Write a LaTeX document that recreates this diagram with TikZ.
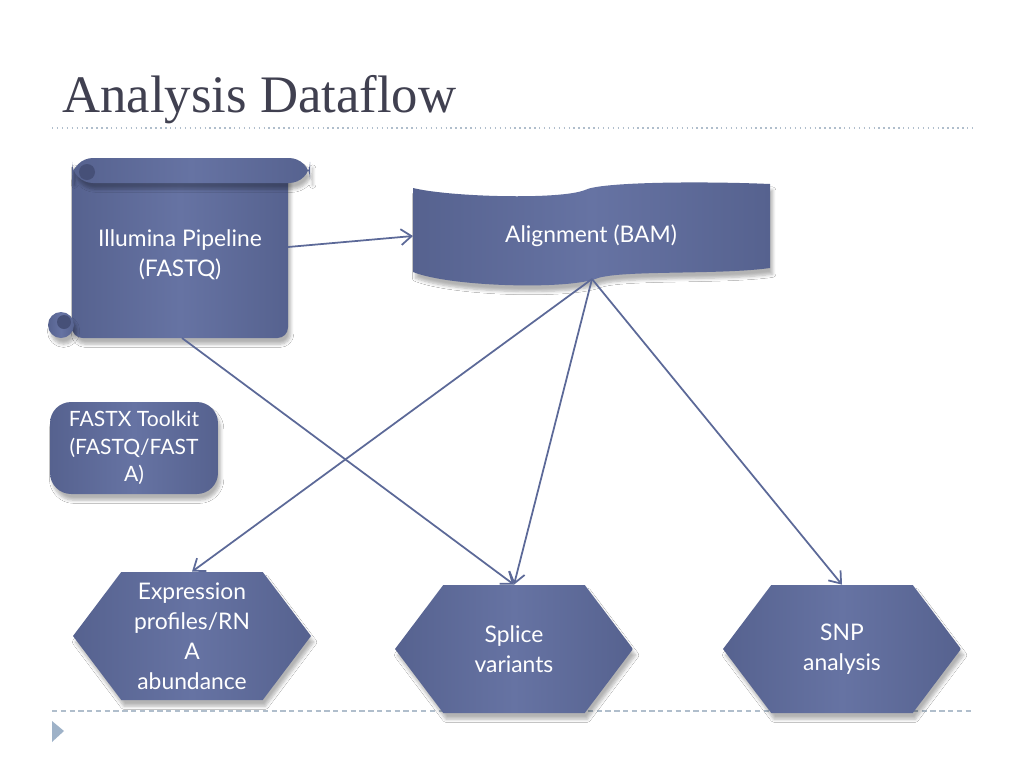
\documentclass[tikz,border=0pt]{standalone}
\usepackage{fontspec}
\setmainfont{Liberation Serif}
\newfontfamily\boxfont{Lato}
\usetikzlibrary{arrows.meta,shapes.symbols,shadows.blur}
\definecolor{slate}{RGB}{92,105,152}
\definecolor{slatelight}{RGB}{102,115,163}
\definecolor{slatedark}{RGB}{86,98,143}
\definecolor{curldark}{RGB}{70,80,120}
\definecolor{titlegray}{RGB}{64,64,80}
\definecolor{rulegray}{RGB}{176,190,204}
\definecolor{bulletblue}{RGB}{158,178,200}

\begin{document}
\begin{tikzpicture}[x=0.02cm,y=-0.02cm,>={Straight Barb[length=6pt,width=9pt]},
  boxfill/.style={left color=slatedark,right color=slatedark,middle color=slatelight,
    blur shadow={shadow xshift=1.5pt,shadow yshift=-3.5pt,shadow blur radius=1.8pt,shadow blur steps=6,shadow opacity=30}},
  boxtext/.style={text=white,font=\boxfont\fontsize{13}{17}\selectfont,align=center},
  hexbox/.style={boxfill,boxtext,shape=signal,signal to=west and east,signal pointer angle=106,
    minimum width=4.76cm,minimum height=2.56cm,inner sep=0pt},
  flow/.style={->,slate,line width=1pt}]
\fill[white] (0,0) rectangle (1024,768);
\useasboundingbox (0,0) rectangle (1024,768);
\node[anchor=base west,text=titlegray,font=\fontsize{30}{36}\selectfont,inner sep=0pt] (title) at (62,112) {Analysis Dataflow};
\draw[rulegray,dotted,line width=0.8pt] (52,128) -- (972,128);
\draw[rulegray,dash pattern=on 3pt off 2pt,line width=0.6pt] (52,711) -- (972,711);
\fill[bulletblue] (52,721) -- (64,731) -- (52,742) -- cycle;

\path[boxfill,rounded corners=6] (72,165) rectangle (288,338);
\path[boxfill,rounded corners=12] (72,158) rectangle (310,183);
\path[boxfill] (61,325) circle[radius=13];
\fill[curldark] (64,322) circle[radius=7];
\fill[curldark] (87,172) circle[radius=8];
\node[boxtext] (illumina) at (180,255) {Illumina Pipeline\\(FASTQ)};

\path[boxfill] (413,188) .. controls (450,197) and (560,200) .. (585,190)
  .. controls (600,182) and (700,181) .. (770,184) -- (770,268)
  .. controls (720,275) and (625,270) .. (598,278)
  .. controls (570,290) and (450,287) .. (413,272) -- cycle;
\node[boxtext] (align) at (591,236) {Alignment (BAM)};

\node[boxfill,boxtext,rounded corners=12,minimum width=3.36cm,minimum height=1.84cm,inner sep=2pt,
  font=\boxfont\fontsize{12}{15.5}\selectfont] (fastx) at (134,448) {FASTX Toolkit\\(FASTQ/FAST\\A)};

\node[hexbox] (expr) at (192,636) {Expression\\profiles/RN\\A\\abundance};
\node[hexbox] (splice) at (514,649) {Splice\\variants};
\node[hexbox] (snp) at (842,649) {SNP\\analysis};

\coordinate (illR) at (288,247);
\coordinate (illB) at (182,338);
\coordinate (alnL) at (413,236);
\coordinate (alnB) at (592,279);
\draw[flow] (illR) -- (alnL);
\draw[flow] (illB) -- (splice.north);
\draw[flow] (alnB) -- (expr.north);
\draw[flow] (alnB) -- (splice.north);
\draw[flow] (alnB) -- (snp.north);
\end{tikzpicture}
\end{document}
